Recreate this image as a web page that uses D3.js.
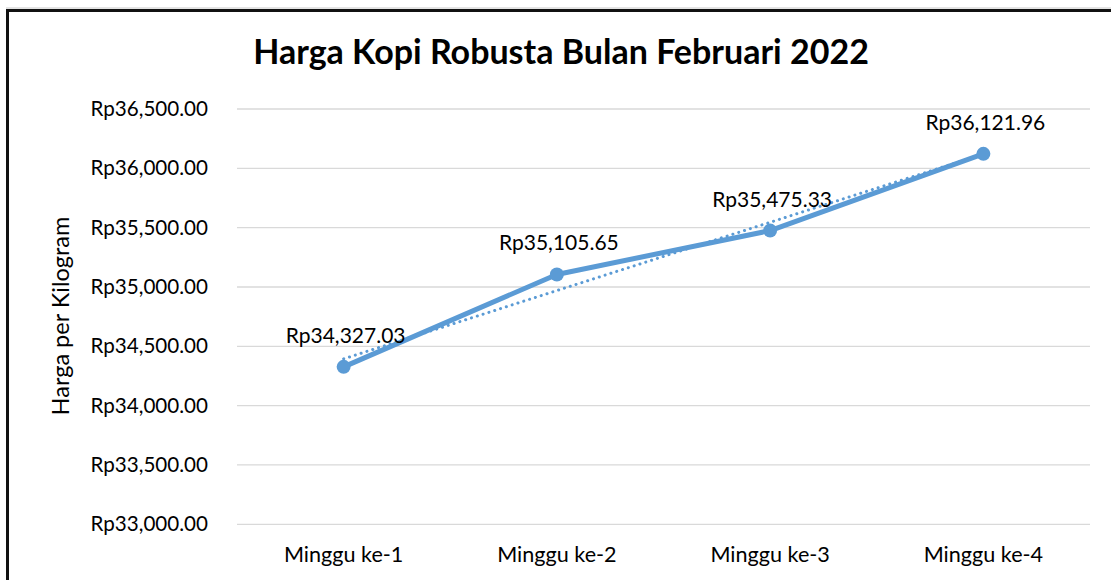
<!DOCTYPE html>
<html>
<head>
<meta charset="utf-8">
<script src="https://cdn.jsdelivr.net/npm/d3@7"></script>
<style>
  body { margin: 0; background: #fff; }
  svg { display: block; }
</style>
</head>
<body>
<div id="chart"></div>
<script>
// data
var weeks = ["Minggu ke-1", "Minggu ke-2", "Minggu ke-3", "Minggu ke-4"];
var prices = [34327.03, 35105.65, 35475.33, 36121.96];
var yTicks = [33000, 33500, 34000, 34500, 35000, 35500, 36000, 36500];

var width = 1111, height = 580;
var blue = "#5b9bd5";
var calibri = "Lato, 'Open Sans', sans-serif";

var svg = d3.select("#chart").append("svg")
    .attr("width", width)
    .attr("height", height);

// chart frame (only top/left visible in the crop)
svg.append("line").attr("x1", 6).attr("x2", width).attr("y1", 8).attr("y2", 8)
    .attr("stroke", "#c8c8c8").attr("stroke-width", 1);
svg.append("path")
    .attr("d", "M7.5," + height + "V10.5H" + width)
    .attr("fill", "none").attr("stroke", "#111").attr("stroke-width", 3);

var x = d3.scaleBand().domain(weeks).range([237, 1090]);
var y = d3.scaleLinear().domain([33000, 36500]).range([524.3, 109]);

// gridlines
svg.append("g").selectAll("line")
    .data(yTicks)
    .enter().append("line")
    .attr("x1", 237).attr("x2", 1090)
    .attr("y1", function(d) { return y(d); })
    .attr("y2", function(d) { return y(d); })
    .attr("stroke", "#d9d9d9")
    .attr("stroke-width", 1.3);

var fmt = function(v) { return "Rp" + d3.format(",.2f")(v); };

// y axis labels
var yAxis = svg.append("g")
    .attr("transform", "translate(230,0)")
    .call(d3.axisLeft(y).tickValues(yTicks).tickFormat(fmt).tickSize(0).tickPadding(22));
yAxis.select(".domain").remove();
yAxis.selectAll("text")
    .attr("font-family", calibri)
    .attr("font-size", 20.6)
    .attr("fill", "#000");

// x axis labels
var xAxis = svg.append("g")
    .attr("transform", "translate(0,524.3)")
    .call(d3.axisBottom(x).tickSize(0).tickPadding(22));
xAxis.select(".domain").remove();
xAxis.selectAll("text")
    .attr("font-family", calibri)
    .attr("font-size", 21.6)
    .attr("fill", "#000");

// axis title
svg.append("text")
    .attr("transform", "translate(69,316) rotate(-90)")
    .attr("text-anchor", "middle")
    .attr("font-family", calibri)
    .attr("font-size", 23.5)
    .attr("fill", "#000")
    .text("Harga per Kilogram");

// title
svg.append("text")
    .attr("x", 561).attr("y", 64)
    .attr("text-anchor", "middle")
    .attr("font-family", calibri)
    .attr("font-weight", "bold")
    .attr("font-size", 34)
    .attr("fill", "#000")
    .text("Harga Kopi Robusta Bulan Februari 2022");

var cx = function(d, i) { return x(weeks[i]) + x.bandwidth() / 2; };

// linear trendline
var n = prices.length;
var xm = (n + 1) / 2, ym = d3.mean(prices);
var slope = d3.sum(prices, function(v, i) { return (i + 1 - xm) * (v - ym); }) /
    d3.sum(prices, function(v, i) { return (i + 1 - xm) * (i + 1 - xm); });
var trend = prices.map(function(v, i) { return ym + slope * (i + 1 - xm); });

svg.append("path")
    .datum(trend)
    .attr("d", d3.line().x(cx).y(function(d) { return y(d); }))
    .attr("fill", "none")
    .attr("stroke", blue)
    .attr("stroke-width", 3)
    .attr("stroke-linecap", "round")
    .attr("stroke-dasharray", "0.1 6");

// main line
svg.append("path")
    .datum(prices)
    .attr("d", d3.line().x(cx).y(function(d) { return y(d); }))
    .attr("fill", "none")
    .attr("stroke", blue)
    .attr("stroke-width", 5)
    .attr("stroke-linejoin", "round");

svg.append("g").selectAll("circle")
    .data(prices)
    .enter().append("circle")
    .attr("cx", cx)
    .attr("cy", function(d) { return y(d); })
    .attr("r", 7)
    .attr("fill", blue);

// data labels
svg.append("g").selectAll("text")
    .data(prices)
    .enter().append("text")
    .attr("x", function(d, i) { return cx(d, i) + 2; })
    .attr("y", function(d) { return y(d) - 24; })
    .attr("text-anchor", "middle")
    .attr("font-family", calibri)
    .attr("font-size", 21)
    .attr("fill", "#000")
    .text(fmt);
</script>
</body>
</html>
